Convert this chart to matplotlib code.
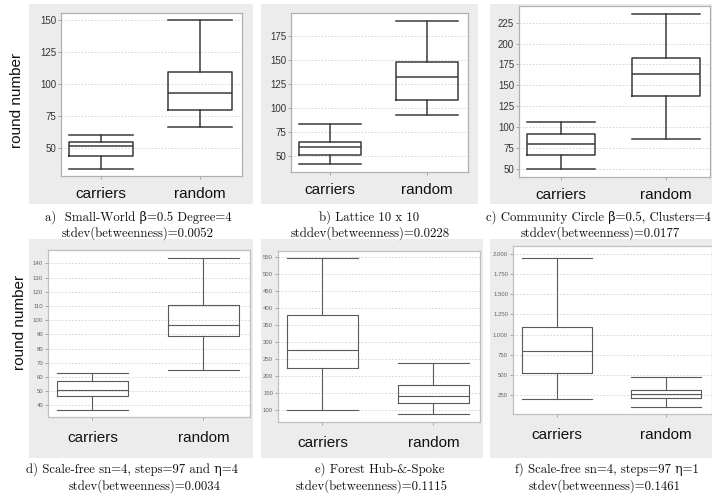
import matplotlib
matplotlib.use("Agg")
import matplotlib.pyplot as plt
from matplotlib.patches import Rectangle
from matplotlib.ticker import FixedLocator, FuncFormatter

# ---------------- data (box stats: whislo, q1, med, q3, whishi) ----------------
categories = ["carriers", "random"]

a_carriers = [34, 44, 51.5, 55, 60.5]
a_random = [67, 80, 93, 110, 150]
b_carriers = [41.5, 51, 59, 64.5, 83]
b_random = [92.5, 108.5, 132.5, 148.5, 191]
c_carriers = [50, 66, 80, 91.5, 106.5]
c_random = [85, 137.5, 164, 183, 235.5]
d_carriers = [37, 46.5, 51, 57, 63]
d_random = [65, 89, 96.5, 111, 144]
e_carriers = [100, 225, 278, 380, 547]
e_random = [89, 120, 141, 174, 240]
f_carriers = [200, 520, 795, 1095, 1945]
f_random = [100, 210, 262, 315, 478]

a_ticks = [50, 75, 100, 125, 150]
b_ticks = [50, 75, 100, 125, 150, 175]
c_ticks = [50, 75, 100, 125, 150, 175, 200, 225]
d_ticks = [40, 50, 60, 70, 80, 90, 100, 110, 120, 130, 140]
e_ticks = [100, 150, 200, 250, 300, 350, 400, 450, 500, 550]
f_ticks = [250, 500, 750, 1000, 1250, 1500, 1750, 2000]

captions = [
    ("a)  Small-World β=0.5 Degree=4", "stdev(betweenness)=0.0052"),
    ("b) Lattice 10 x 10", "stddev(betweenness)=0.0228"),
    ("c) Community Circle β=0.5, Clusters=4", "stddev(betweenness)=0.0177"),
    ("d) Scale-free sn=4, steps=97 and η=4", "stdev(betweenness)=0.0034"),
    ("e) Forest Hub-&-Spoke", "stdev(betweenness)=0.1115"),
    ("f) Scale-free sn=4, steps=97 η=1", "stdev(betweenness)=0.1461"),
]
ylabel = "round number"

# ---------------- layout ----------------
W, H = 712, 500
fig = plt.figure(figsize=(W / 100, H / 100), dpi=100)
fig.patch.set_facecolor("white")

def fbox(x0, y0, x1, y1):
    return [x0 / W, 1 - y1 / H, (x1 - x0) / W, (y1 - y0) / H]

SANS = ["Liberation Sans", "DejaVu Sans"]
SERIF = ["cmr10", "DejaVu Serif"]

panels = [
    dict(bg=(29, 4, 253, 204), ax=(61, 13, 242, 176), data=(a_carriers, a_random), ticks=a_ticks,
         ylim=(28.3, 155.8), row=1, cap=(138, 138, 217, 233), ha1="center"),
    dict(bg=(261, 4, 478, 204), ax=(291, 13, 468, 172), data=(b_carriers, b_random), ticks=b_ticks,
         ylim=(33, 199.5), row=1, cap=(369, 370, 217, 233), ha1="center"),
    dict(bg=(490, 4, 712, 204), ax=(519, 6, 710, 177), data=(c_carriers, c_random), ticks=c_ticks,
         ylim=(40, 245), row=1, cap=(711, 600, 217, 233), ha1="right"),
    dict(bg=(29, 239, 253, 458), ax=(48, 250, 250, 417), data=(d_carriers, d_random), ticks=d_ticks,
         ylim=(31.8, 149.4), row=2, cap=(132, 145, 469, 486), ha1="center"),
    dict(bg=(261, 239, 483, 458), ax=(278, 251, 480, 422), data=(e_carriers, e_random), ticks=e_ticks,
         ylim=(65.7, 567), row=2, cap=(380, 372, 469, 486), ha1="center"),
    dict(bg=(490, 239, 712, 458), ax=(513, 246, 712, 414), data=(f_carriers, f_random), ticks=f_ticks,
         ylim=(14, 2099), row=2, cap=(607, 605, 469, 486), ha1="center"),
]

def fmt_dot(v, pos):
    return f"{int(round(v)):,}".replace(",", ".")

for i, p in enumerate(panels):
    x0, y0, x1, y1 = p["bg"]
    fig.patches.append(Rectangle((x0 / W, 1 - y1 / H), (x1 - x0) / W, (y1 - y0) / H,
                                 transform=fig.transFigure, facecolor="#ececec",
                                 edgecolor="none", zorder=-10))
    ax = fig.add_axes(fbox(*p["ax"]))
    ax.set_zorder(1)
    ax.set_facecolor("white")
    row1 = p["row"] == 1
    lc = "#3a3a3a" if row1 else "#5a5a5a"
    lw = 1.1 if row1 else 0.8
    stats = []
    for name, s in zip(categories, p["data"]):
        stats.append(dict(label=name, whislo=s[0], q1=s[1], med=s[2], q3=s[3], whishi=s[4], fliers=[]))
    ax.bxp(stats, positions=[1, 2], widths=0.64, capwidths=0.64, showfliers=False,
           boxprops=dict(color=lc, linewidth=lw),
           whiskerprops=dict(color=lc, linewidth=lw),
           capprops=dict(color=lc, linewidth=lw),
           medianprops=dict(color=lc, linewidth=lw))
    ax.set_xlim(0.6, 2.42)
    ax.set_ylim(*p["ylim"])
    ax.yaxis.set_major_locator(FixedLocator(p["ticks"]))
    if i == 5:
        ax.yaxis.set_major_formatter(FuncFormatter(fmt_dot))
    ax.grid(axis="y", linestyle=(0, (2, 2)), color="#d0d0d0", linewidth=0.6)
    ax.set_axisbelow(True)
    for sp in ax.spines.values():
        sp.set_color("#b0b0b0" if row1 else "#c0c0c0")
        sp.set_linewidth(0.9)
    ax.tick_params(axis="y", length=2, width=0.6, color="#999999", pad=1.5,
                   labelsize=7 if row1 else 4.3, labelcolor="#333333" if row1 else "#666666")
    ax.tick_params(axis="x", length=2, width=0.6, color="#999999", pad=6 if row1 else 8,
                   labelsize=11)
    for lab in ax.get_yticklabels():
        lab.set_fontfamily(SANS)
    ax.set_xticks([1, 2])
    ax.set_xticklabels(categories, fontfamily=SANS, fontsize=11, color="#111111")

    c1x, c2x, c1y, c2y = p["cap"]
    l1, l2 = captions[i]
    fig.text(c1x / W, 1 - c1y / H, l1, ha=p["ha1"], va="center", fontsize=9.2,
             family=SERIF, color="#111111")
    fig.text(c2x / W, 1 - c2y / H, l2, ha="center", va="center", fontsize=9.2,
             family=SERIF, color="#111111")

fig.text(17 / W, 1 - 100 / H, ylabel, rotation=90, ha="center", va="center",
         fontsize=11, family=SANS, color="#111111")
fig.text(20 / W, 1 - 322 / H, ylabel, rotation=90, ha="center", va="center",
         fontsize=11, family=SANS, color="#111111")

fig.savefig("out.png", dpi=100)
